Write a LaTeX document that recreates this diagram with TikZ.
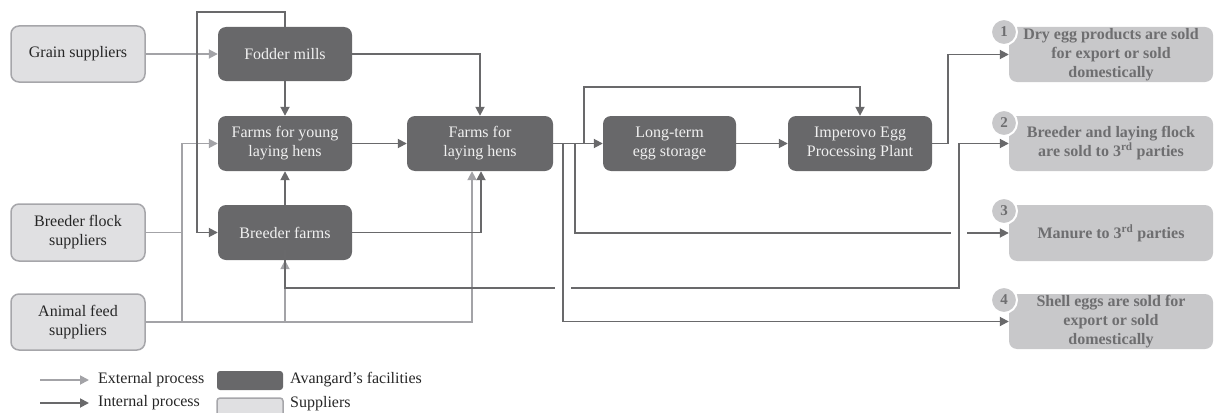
\documentclass[tikz,border=0pt]{standalone}
\usepackage{fontspec}
\setmainfont{Liberation Serif}
\usetikzlibrary{arrows.meta}
\definecolor{darkf}{HTML}{68686A}
\definecolor{lightf}{HTML}{E0E0E2}
\definecolor{lightb}{HTML}{A6A6AA}
\definecolor{outf}{HTML}{C8C8CA}
\definecolor{outt}{HTML}{6E6E70}
\definecolor{intl}{HTML}{69696B}
\definecolor{extl}{HTML}{A3A3A7}
\begin{document}
\begin{tikzpicture}[x=1pt,y=-1pt,
  every node/.style={font=\fontsize{16}{19}\selectfont},
  dbox/.style={fill=darkf, text=white!94!black, rounded corners=8pt, align=center, inner sep=0pt},
  sbox/.style={fill=lightf, draw=lightb, line width=1.5pt, rounded corners=8pt, align=center, text=black!85, inner sep=0pt},
  obox/.style={fill=outf, text=outt, rounded corners=8pt, align=center, font=\fontsize{16}{19}\selectfont\bfseries, inner sep=0pt, minimum width=204pt},
  numc/.style={circle, fill=outf, draw=white, line width=2pt, minimum size=26pt, inner sep=0pt, text=outt, font=\fontsize{15}{15}\selectfont\bfseries},
  intline/.style={draw=intl, line width=1.8pt},
  extline/.style={draw=extl, line width=1.8pt},
  intarr/.style={intline, -{Triangle[length=9pt,width=9pt]}},
  extarr/.style={extline, -{Triangle[length=9pt,width=9pt]}},
  lgtext/.style={anchor=west, inner sep=0pt, text=black!85}
]
\useasboundingbox (0,0) rectangle (1214,412);
\clip (0,0) rectangle (1214,412);

% suppliers
\node[sbox, minimum width=134pt, minimum height=56pt] (gs) at (78,54) {Grain suppliers};
\node[sbox, minimum width=134pt, minimum height=57pt] (bfs) at (78,232.5) {Breeder flock\\suppliers};
\node[sbox, minimum width=134pt, minimum height=56pt] (afs) at (78,322) {Animal feed\\suppliers};

% facilities
\node[dbox, minimum width=134pt, minimum height=54pt] (fm) at (285,54) {Fodder mills};
\node[dbox, minimum width=134pt, minimum height=55pt] (fy) at (285,143.5) {Farms for young\\laying hens};
\node[dbox, minimum width=134pt, minimum height=55pt] (bf) at (285,232.5) {Breeder farms};
\node[dbox, minimum width=146pt, minimum height=55pt] (fl) at (480,143.5) {Farms for\\laying hens};
\node[dbox, minimum width=133pt, minimum height=55pt] (lt) at (669.5,143.5) {Long-term\\egg storage};
\node[dbox, minimum width=144pt, minimum height=55pt] (ip) at (860,143.5) {Imperovo Egg\\Processing Plant};

% outcomes
\node[obox, minimum height=55pt] (o1) at (1111,54.5) {Dry egg products are sold\\for export or sold\\domestically};
\node[obox, minimum height=55pt] (o2) at (1111,143.5) {Breeder and laying flock\\are sold to 3\textsuperscript{rd} parties};
\node[obox, minimum height=56pt] (o3) at (1111,233) {Manure to 3\textsuperscript{rd} parties};
\node[obox, minimum height=55pt] (o4) at (1111,321.5) {Shell eggs are sold for\\export or sold\\domestically};
\node[numc] (c1) at (1004,32) {1};
\node[numc] (c2) at (1004,123) {2};
\node[numc] (c3) at (1004,211) {3};
\node[numc] (c4) at (1004,300) {4};

% helper coordinates
\coordinate (xa) at (182,0);
\coordinate (k2) at (959,288);

% external process
\draw[extarr] (gs) -- (fm);
\draw[extline] (bfs.east) -- (bfs.east -| xa);
\draw[extarr] (afs.east) -| ([xshift=-8pt]fl.south);
\draw[extarr] (afs.east -| xa) |- (fy.west);
\draw[extarr] (afs.east -| bf.south) -- (bf.south);

% internal process
\draw[intarr] (fm.north) -- ++(0,-15) -| ([xshift=-21pt]bf.west) -- (bf.west);
\draw[intarr] (fm) -- (fy);
\draw[intarr] (bf) -- (fy);
\draw[intarr] (fy) -- (fl);
\draw[intarr] (fm.east) -| (fl.north);
\draw[intarr] (bf.east) -| ([xshift=1pt]fl.south);
\draw[intarr] (fl) -- (lt);
\draw[intarr] (lt) -- (ip);
\draw[intarr] ([xshift=31pt]fl.east) -- ++(0,-56.5) -| (ip.north);
\draw[intarr] (ip.east) -- ++(16,0) |- (o1.west);
\draw[intarr] ([xshift=22pt]fl.east) |- (o3.west);
\fill[white] (951,226) rectangle (967,240);
\draw[intarr] ([yshift=10pt]bf.south) |- (k2) |- (o2.west);
\fill[white] (555,281) rectangle (571,295);
\draw[intarr] ([xshift=10pt]fl.east) |- (o4.west);

% legend
\coordinate (le1) at (40,380);
\coordinate (le2) at (40,403);
\draw[extarr] (le1) -- ++(49,0);
\draw[intarr] (le2) -- ++(49,0);
\node[lgtext] (t1) at (98,380) {External process};
\node[lgtext] (t2) at (98,403) {Internal process};
\node[dbox, minimum width=66pt, minimum height=19pt, rounded corners=3pt] (lb1) at (250,380.5) {};
\node[sbox, minimum width=66pt, minimum height=19pt, rounded corners=3pt] (lb2) at (250,407.5) {};
\node[lgtext] (t3) at (290,380) {Avangard’s facilities};
\node[lgtext] (t4) at (290,404) {Suppliers};
\end{tikzpicture}
\end{document}
